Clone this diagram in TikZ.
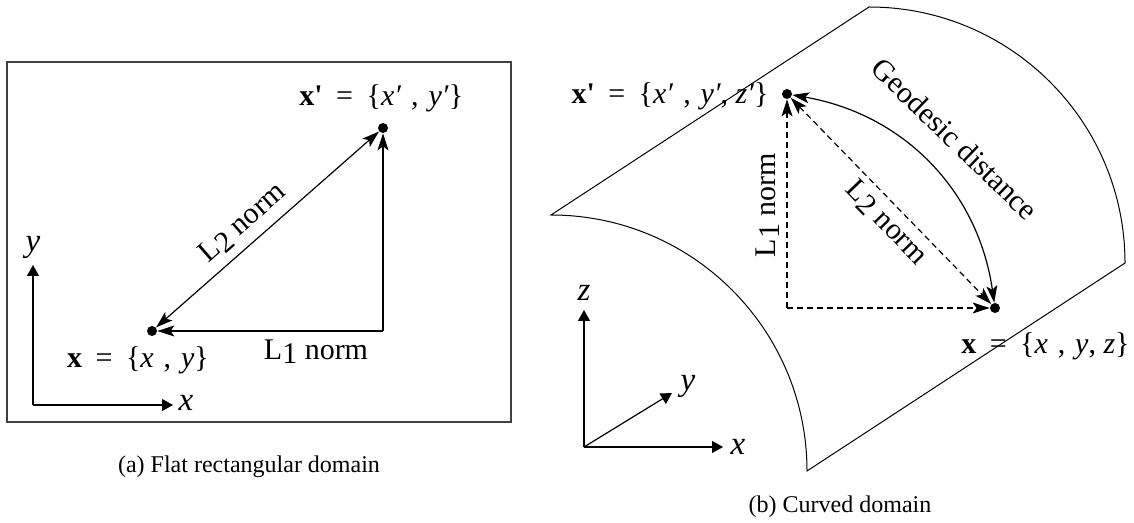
\documentclass[tikz,border=0pt]{standalone}
\usepackage{fontspec}
\setmainfont{Liberation Serif}
\usetikzlibrary{arrows.meta}
\newcommand\eqgap{\hspace{0.45em}}
\newcommand\cmgap{\hspace{0.33em}}
\newcommand\prm{\textit{′}}
\begin{document}
\begin{tikzpicture}[x=0.5pt,y=-0.5pt,
  dot/.style={circle,fill=black,inner sep=0pt,minimum size=5pt},
  norm/.style={line width=0.6pt,-{Stealth[length=8.5pt,width=5.5pt,inset=2pt]}},
  normboth/.style={line width=0.6pt,{Stealth[length=8.5pt,width=5.5pt,inset=2pt]}-{Stealth[length=8.5pt,width=5.5pt,inset=2pt]}},
  axis/.style={line width=0.6pt,-{Triangle[length=5.5pt,width=6pt]}},
  dsh/.style={dash pattern=on 3pt off 2pt},
  surf/.style={line width=0.5pt},
  lab/.style={inner sep=0pt,font=\fontsize{15}{18}\selectfont},
  axlab/.style={inner sep=0pt,font=\fontsize{16.5}{19}\selectfont\itshape},
  captext/.style={inner sep=0pt,font=\fontsize{12}{14}\selectfont}]
\useasboundingbox (0,0) rectangle (1134,523);

% ---------- (a) flat domain ----------
\draw[line width=0.8pt,black!75] (7,62) rectangle (511,422);
\node[dot] (xa) at (152,331) {};
\node[dot] (xpa) at (383,128) {};
\coordinate (ca) at (383,331);
\draw[norm] (ca) -- (xa);
\draw[norm] (ca) -- (xpa);
\draw[normboth] (xa) -- (xpa);
\node[lab] (xalab) at (138,360) {\textbf{x}\eqgap=\eqgap\{\textit{x}\cmgap,\cmgap\textit{y}\}};
\node[lab,anchor=west] (xpalab) at (299,98) {\textbf{x\textquotesingle}\eqgap=\eqgap\{\textit{x}\prm\cmgap,\cmgap\textit{y}\prm\}};
\node[lab] (l1a) at (316,352) {L\raisebox{-0.3ex}{1} norm};
\node[lab,rotate=41] (l2a) at (243,223) {L\raisebox{-0.3ex}{2} norm};
\coordinate (oa) at (33,405);
\coordinate (yta) at (33,265);
\coordinate (xta) at (173,405);
\draw[axis] (oa) -- (yta);
\draw[axis] (oa) -- (xta);
\node[axlab] (yla) at (33,247) {y};
\node[axlab] (xla) at (186,403) {x};
\node[captext] (capa) at (249,467) {(a) Flat rectangular domain};

% ---------- (b) curved domain ----------
\draw[surf] (551,215) -- (869,7) arc[start angle=-90,end angle=0,radius=256]
  -- (807,471) arc[start angle=0,end angle=-90,radius=256] -- cycle;
\node[dot] (xb) at (995,308) {};
\node[dot] (xpb) at (787,94) {};
\coordinate (cb) at (787,308);
\draw[norm,dsh] (cb) -- (xpb);
\draw[norm,dsh] (cb) -- (xb);
\draw[normboth,dsh] (xpb) -- (xb);
\draw[normboth] (xpb) to[bend left=36] (xb);
\node[lab,anchor=east] (xpblab) at (769,96) {\textbf{x\textquotesingle}\eqgap=\eqgap\{\textit{x}\prm\cmgap,\cmgap\textit{y}\prm, \textit{z}\prm\}};
\node[lab,anchor=east] (xblab) at (1130,346) {\textbf{x}\eqgap=\eqgap\{\textit{x}\cmgap,\cmgap\textit{y}, \textit{z}\}};
\node[lab,rotate=90] (l1b) at (768,205) {L\raisebox{-0.3ex}{1} norm};
\node[lab,rotate=-46] (l2b) at (886,223) {L\raisebox{-0.3ex}{2} norm};
\node[lab,rotate=-44] (geo) at (955,139) {Geodesic distance};
\coordinate (ob) at (584,447);
\coordinate (ztb) at (584,310);
\coordinate (xtb) at (723,447);
\coordinate (ytb) at (672,393);
\draw[axis] (ob) -- (ztb);
\draw[axis] (ob) -- (xtb);
\draw[axis] (ob) -- (ytb);
\node[axlab] (zlb) at (584,293) {z};
\node[axlab] (ylb) at (688,386) {y};
\node[axlab] (xlb) at (738,447) {x};
\node[captext] (capb) at (840,507) {(b) Curved domain};
\end{tikzpicture}
\end{document}
